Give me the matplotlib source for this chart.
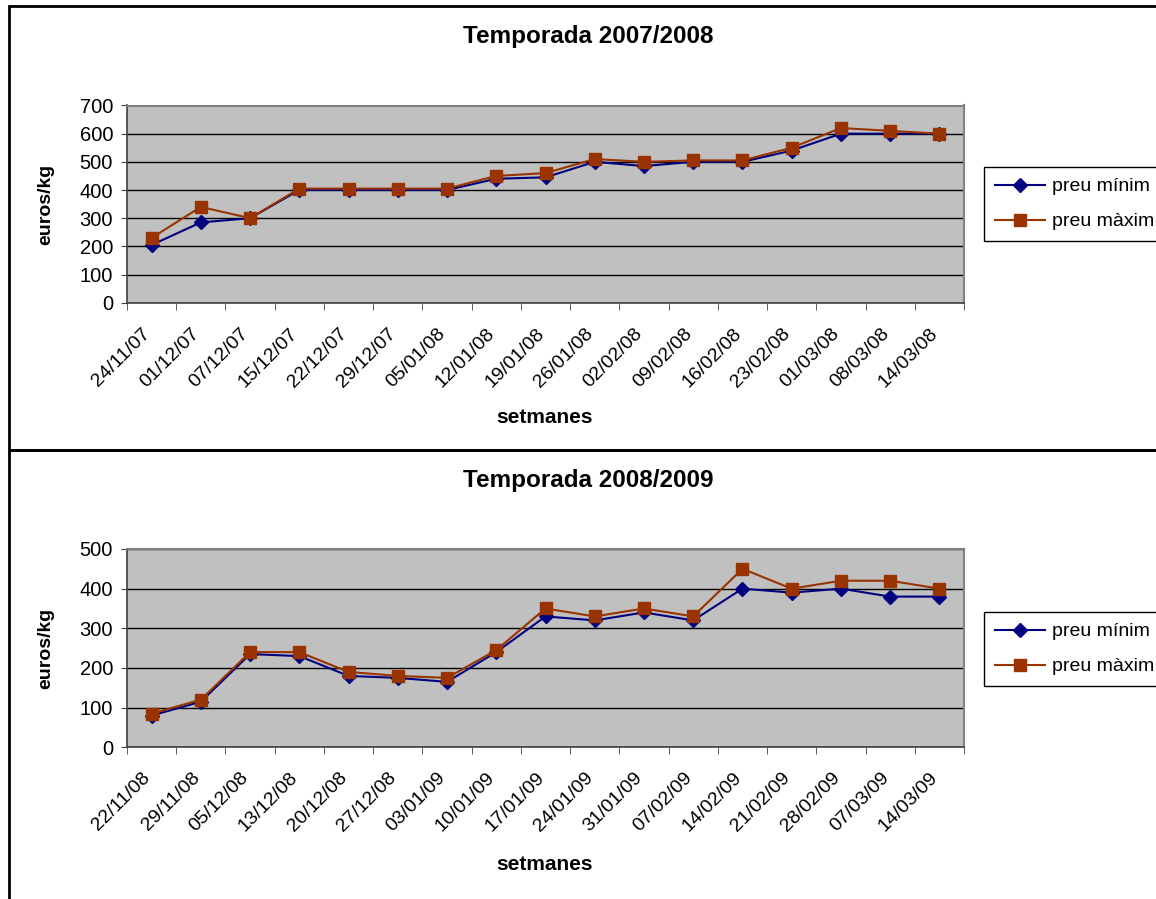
import matplotlib
matplotlib.use("Agg")
from matplotlib import pyplot as plt
from matplotlib.patches import Rectangle

plt.rcParams['font.family'] = ['Liberation Sans', 'DejaVu Sans']

# temporada 2007/2008
weeks_0708 = ["24/11/07", "01/12/07", "07/12/07", "15/12/07", "22/12/07", "29/12/07",
              "05/01/08", "12/01/08", "19/01/08", "26/01/08", "02/02/08", "09/02/08",
              "16/02/08", "23/02/08", "01/03/08", "08/03/08", "14/03/08"]
min_0708 = [205, 285, 300, 400, 400, 400, 400, 440, 445, 500, 485, 500, 500, 540, 600, 600, 600]
max_0708 = [230, 340, 300, 405, 405, 405, 405, 450, 460, 510, 500, 505, 505, 550, 620, 610, 600]

# temporada 2008/2009
weeks_0809 = ["22/11/08", "29/11/08", "05/12/08", "13/12/08", "20/12/08", "27/12/08",
              "03/01/09", "10/01/09", "17/01/09", "24/01/09", "31/01/09", "07/02/09",
              "14/02/09", "21/02/09", "28/02/09", "07/03/09", "14/03/09"]
min_0809 = [80, 115, 235, 230, 180, 175, 165, 240, 330, 320, 340, 320, 400, 390, 400, 380, 380]
max_0809 = [85, 120, 240, 240, 190, 180, 175, 245, 350, 330, 350, 330, 450, 400, 420, 420, 400]

W, H = 1156, 899
fig = plt.figure(figsize=(W / 100, H / 100), dpi=100)


def px(x0, y0, x1, y1):
    # pixel box (top-left origin) -> figure fraction rect
    return [x0 / W, 1 - y1 / H, (x1 - x0) / W, (y1 - y0) / H]


# panel borders
fig.patches.append(Rectangle((9 / W, 1 - 450 / H), 1.2, 444 / H, transform=fig.transFigure,
                             fill=False, edgecolor='black', linewidth=2))
fig.patches.append(Rectangle((9 / W, -0.1), 1.2, 0.1 + 1 - 450 / H, transform=fig.transFigure,
                             fill=False, edgecolor='black', linewidth=2))


def draw_panel(rect, title, title_y, weeks, mins, maxs, ymax, leg_y, xlabel_y):
    ax = fig.add_axes(rect)
    ax.set_facecolor('#C0C0C0')
    x = list(range(len(weeks)))
    ax.plot(x, mins, color='#000080', marker='D', markersize=7, linewidth=1.5,
            label='preu mínim', zorder=3)
    ax.plot(x, maxs, color='#993300', marker='s', markersize=8, linewidth=1.5,
            label='preu màxim', zorder=4)
    ax.set_xlim(-0.5, len(weeks) - 0.5)
    ax.set_ylim(0, ymax)
    ax.set_yticks(range(0, ymax + 1, 100))
    ax.yaxis.grid(True, color='black', linewidth=1)
    ax.set_axisbelow(True)
    # labels sit a little left of the category centre, like excel does
    ax.set_xticks([i - 0.2 for i in x])
    ax.set_xticklabels(weeks, rotation=45, ha='right', va='top', rotation_mode='anchor',
                       fontsize=14)
    ax.set_xticks([i - 0.5 for i in range(len(weeks) + 1)], minor=True)
    ax.tick_params(axis='x', which='major', length=0, pad=16)
    ax.tick_params(axis='x', which='minor', length=5, direction='out', color='#404040')
    ax.tick_params(axis='y', length=4, direction='out', labelsize=14.5, pad=6, color='#404040')
    for s in ['top', 'right']:
        ax.spines[s].set_color('#808080')
        ax.spines[s].set_linewidth(1.5)
    for s in ['left', 'bottom']:
        ax.spines[s].set_color('#404040')
        ax.spines[s].set_linewidth(1.2)
    ax.set_ylabel('euros/kg', fontsize=14, fontweight='bold', labelpad=18)
    fig.text(545 / W, 1 - xlabel_y / H, 'setmanes', ha='center', va='center',
             fontsize=15, fontweight='bold')
    fig.text(588 / W, 1 - title_y / H, title, ha='center', va='center',
             fontsize=17.5, fontweight='bold')
    leg = ax.legend(loc='upper left', bbox_to_anchor=(984 / W, 1 - leg_y / H),
                    bbox_transform=fig.transFigure, borderaxespad=0, fontsize=14,
                    fancybox=False, framealpha=1, edgecolor='black', handlelength=2.6,
                    handletextpad=0.35, borderpad=0.55, labelspacing=0.9)
    leg.get_frame().set_linewidth(1)
    return ax


draw_panel(px(127, 105.5, 964, 302.7), 'Temporada 2007/2008', 37,
           weeks_0708, min_0708, max_0708, 700, 167, 418)
draw_panel(px(127, 549, 964, 747.3), 'Temporada 2008/2009', 480,
           weeks_0809, min_0809, max_0809, 500, 612, 864)

fig.savefig('out.png', dpi=100)
